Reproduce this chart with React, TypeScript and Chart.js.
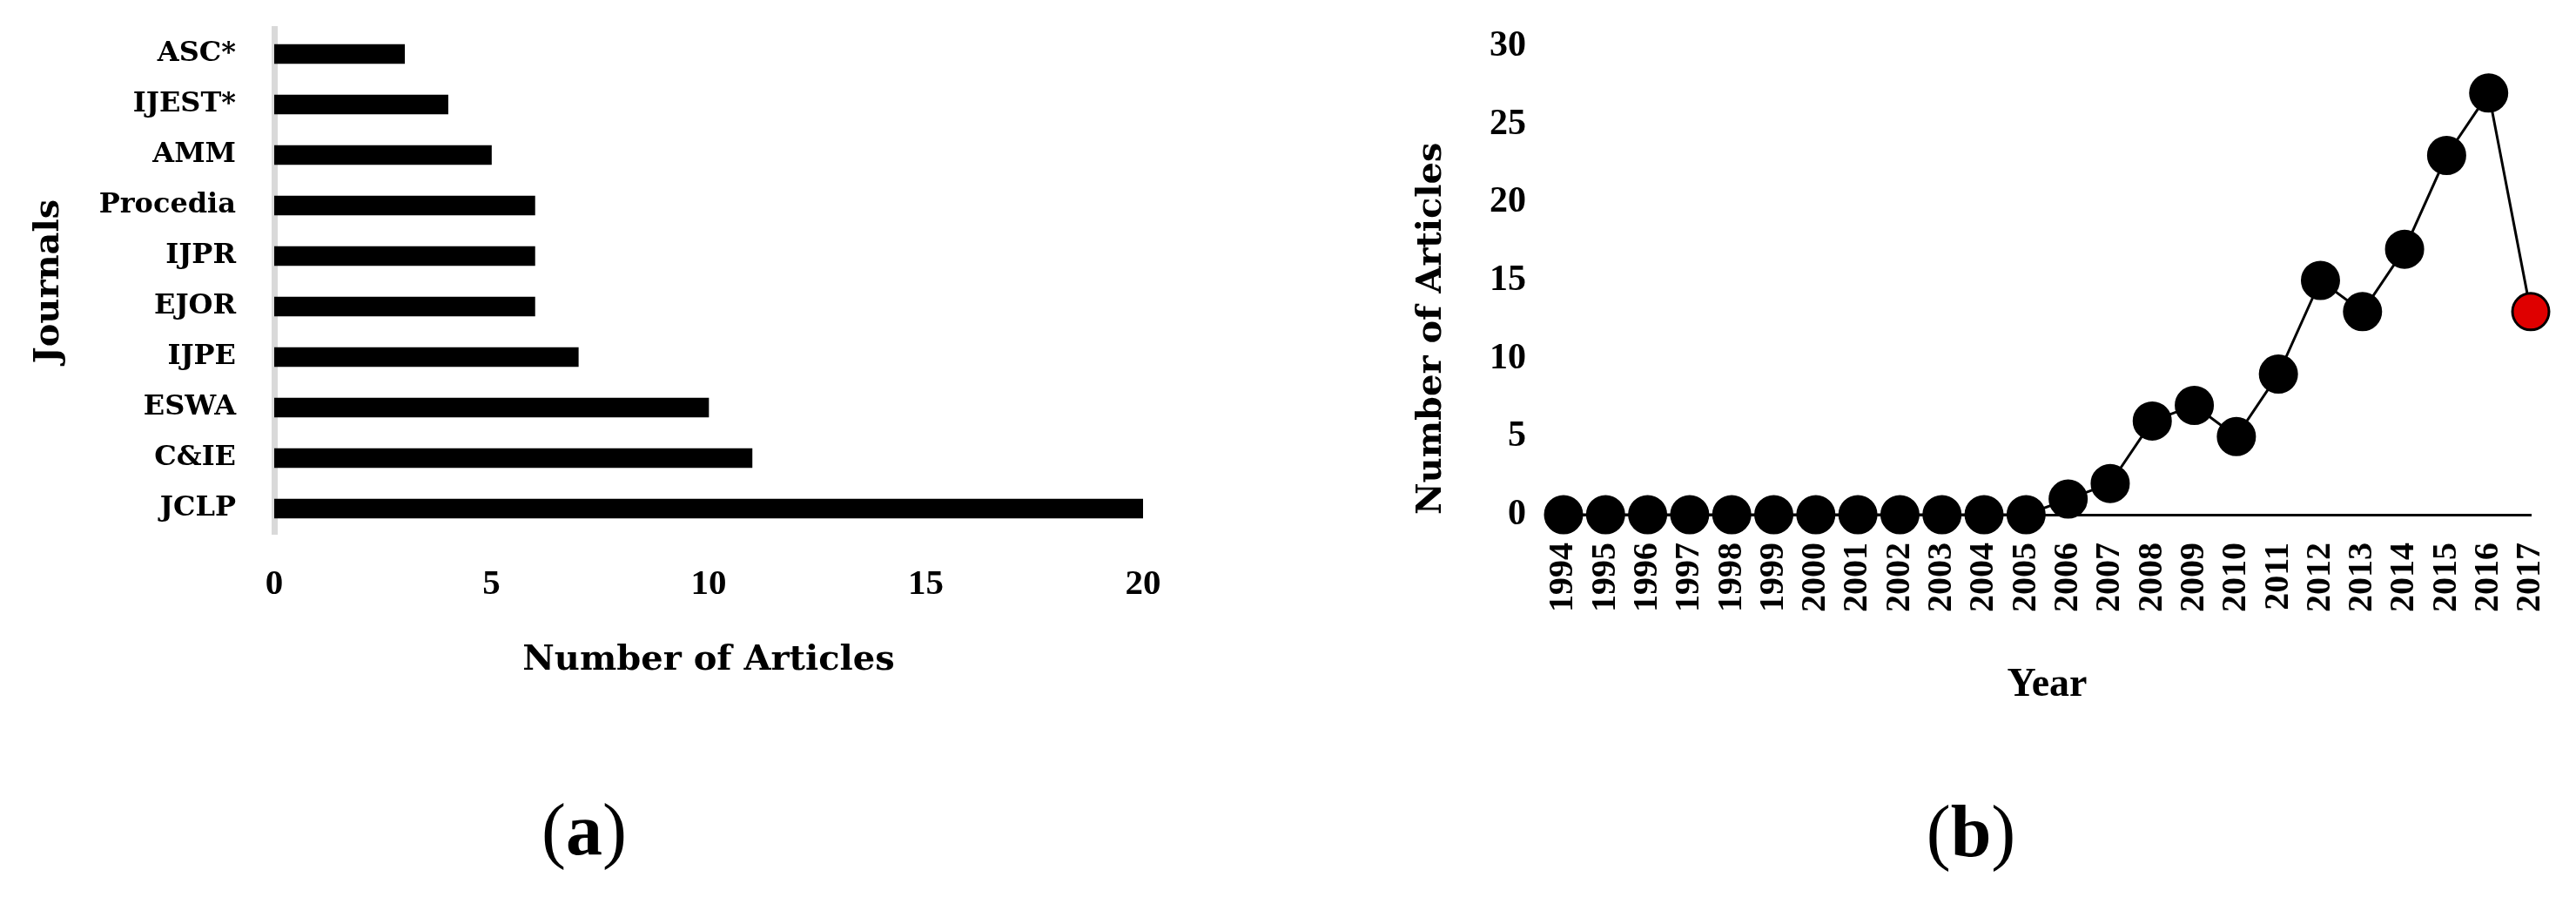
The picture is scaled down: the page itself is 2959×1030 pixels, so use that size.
import React, { useEffect, useRef } from "react";
import { Chart, registerables } from "chart.js";

Chart.register(...registerables);

// ---------- data ----------
const journals = ["ASC*", "IJEST*", "AMM", "Procedia", "IJPR", "EJOR", "IJPE", "ESWA", "C&IE", "JCLP"];
const journalArticles = [3, 4, 5, 6, 6, 6, 7, 10, 11, 20];

const years = [
  "1994", "1995", "1996", "1997", "1998", "1999", "2000", "2001", "2002", "2003", "2004", "2005",
  "2006", "2007", "2008", "2009", "2010", "2011", "2012", "2013", "2014", "2015", "2016", "2017",
];
const yearArticles = [0, 0, 0, 0, 0, 0, 0, 0, 0, 0, 0, 0, 1, 2, 6, 7, 5, 9, 15, 13, 17, 23, 27, 13];
const highlightYear = "2017";

const journalAxisMax = 20;
const journalAxisStep = 5;
const yearAxisMax = 30;
const yearAxisStep = 5;

const SERIF = "'Liberation Serif', 'Times New Roman', serif";
const WIDE_SERIF = "'DejaVu Serif', serif";

function fixAxis(size: { width?: number; height?: number }) {
  return (s: any) => {
    if (size.width !== undefined) s.width = size.width;
    if (size.height !== undefined) s.height = size.height;
    s.paddingTop = 0;
    s.paddingBottom = 0;
    s.paddingLeft = 0;
    s.paddingRight = 0;
  };
}

function BarChart() {
  const ref = useRef<HTMLCanvasElement | null>(null);
  useEffect(() => {
    if (!ref.current) return;
    const chart = new Chart(ref.current, {
      type: "bar",
      data: {
        labels: journals,
        datasets: [
          {
            data: journalArticles,
            backgroundColor: "#000000",
            borderWidth: 0,
            barThickness: 22,
          },
        ],
      },
      options: {
        indexAxis: "y",
        responsive: false,
        animation: false,
        layout: { padding: { top: 33, right: 87, bottom: 0, left: 0 } },
        plugins: { legend: { display: false }, tooltip: { enabled: false } },
        scales: {
          x: {
            min: 0,
            max: journalAxisMax,
            ticks: {
              stepSize: journalAxisStep,
              padding: 34,
              color: "#000",
              font: { family: SERIF, size: 41, weight: "bold" },
            },
            grid: { display: false, drawTicks: false },
            border: { display: false },
            title: {
              display: true,
              text: "Number of Articles",
              color: "#000",
              font: { family: WIDE_SERIF, size: 40, weight: "bold" },
              padding: { top: 0, bottom: 37 },
            },
            afterFit: fixAxis({ height: 820 - 613 }),
          },
          y: {
            ticks: {
              padding: 44,
              color: "#000",
              font: { family: WIDE_SERIF, size: 32, weight: "bold" },
            },
            grid: { display: false, drawTicks: false },
            border: { display: true, color: "#d9d9d9", width: 7 },
            title: {
              display: true,
              text: "Journals",
              color: "#000",
              font: { family: WIDE_SERIF, size: 40, weight: "bold" },
              padding: { top: 33, bottom: 0 },
            },
            afterFit: fixAxis({ width: 315 }),
          },
        },
      },
    } as any);
    return () => chart.destroy();
  }, []);
  return <canvas ref={ref} width={1400} height={820} style={{ display: "block" }} />;
}

function LineChart() {
  const ref = useRef<HTMLCanvasElement | null>(null);
  useEffect(() => {
    if (!ref.current) return;
    const chart = new Chart(ref.current, {
      type: "line",
      data: {
        labels: years,
        datasets: [
          {
            data: yearArticles,
            borderColor: "#000000",
            borderWidth: 3,
            tension: 0,
            pointRadius: 21,
            pointHoverRadius: 21,
            pointBorderWidth: 3,
            pointBorderColor: "#000000",
            pointBackgroundColor: years.map((y) => (y === highlightYear ? "#df0000" : "#000000")),
            clip: false,
          },
        ],
      },
      options: {
        responsive: false,
        animation: false,
        layout: { padding: { top: 53, right: 52, bottom: 0, left: 0 } },
        plugins: { legend: { display: false }, tooltip: { enabled: false } },
        scales: {
          x: {
            offset: false,
            ticks: {
              autoSkip: false,
              minRotation: 90,
              maxRotation: 90,
              padding: 32,
              color: "#000",
              font: { family: SERIF, size: 40, weight: "bold" },
            },
            grid: { display: false, drawTicks: false },
            border: { display: true, color: "#000000", width: 3 },
            title: {
              display: true,
              text: "Year",
              color: "#000",
              font: { family: SERIF, size: 46, weight: "bold" },
              padding: { top: 0, bottom: 25 },
            },
            afterFit: fixAxis({ height: 840 - 591 }),
          },
          y: {
            min: 0,
            max: yearAxisMax,
            ticks: {
              stepSize: yearAxisStep,
              padding: 43,
              color: "#000",
              font: { family: SERIF, size: 42, weight: "bold" },
            },
            grid: { display: false, drawTicks: false },
            border: { display: false },
            title: {
              display: true,
              text: "Number of Articles",
              align: "start",
              color: "#000",
              font: { family: WIDE_SERIF, size: 40, weight: "bold" },
              padding: { top: 121, bottom: 0 },
            },
            afterFit: fixAxis({ width: 296 }),
          },
        },
      },
    } as any);
    return () => chart.destroy();
  }, []);
  return <canvas ref={ref} width={1459} height={840} style={{ display: "block" }} />;
}

const captionStyle = (cx: number, top: number): React.CSSProperties => ({
  position: "absolute",
  left: cx - 150,
  width: 300,
  top,
  textAlign: "center",
  fontFamily: SERIF,
  fontSize: 84,
  lineHeight: "84px",
  color: "#000",
});

export default function App() {
  return (
    <div
      style={{
        position: "fixed",
        left: 0,
        top: 0,
        width: 2959,
        height: 1030,
        background: "#ffffff",
        overflow: "hidden",
      }}
    >
      <div style={{ position: "absolute", left: 0, top: 0 }}>
        <BarChart />
      </div>
      <div style={{ position: "absolute", left: 1500, top: 0 }}>
        <LineChart />
      </div>
      <div style={captionStyle(671, 911)}>
        (<b>a</b>)
      </div>
      <div style={captionStyle(2264, 913)}>
        (<b>b</b>)
      </div>
    </div>
  );
}
